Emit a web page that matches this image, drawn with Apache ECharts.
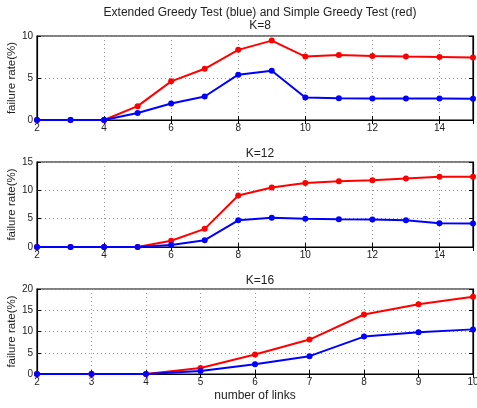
<!DOCTYPE html>
<html><head><meta charset="utf-8">
<script src="https://cdn.jsdelivr.net/npm/echarts@6/dist/echarts.min.js"></script>
<style>html,body{margin:0;padding:0;background:#fff}#c{width:477px;height:408px}</style>
</head><body><div id="c"></div>
<script>
const x8 = [2,3,4,5,6,7,8,9,10,11,12,13,14,15];
const red8 = [0,0,0,1.65,4.6,6.1,8.35,9.45,7.55,7.75,7.62,7.55,7.5,7.45];
const blue8 = [0,0,0,0.83,1.97,2.8,5.4,5.87,2.68,2.6,2.56,2.55,2.55,2.52];
const x12 = [2,3,4,5,6,7,8,9,10,11,12,13,14,15];
const red12 = [0,0,0,0,1.1,3.2,9.1,10.5,11.3,11.6,11.8,12.1,12.4,12.4];
const blue12 = [0,0,0,0,0.35,1.2,4.7,5.15,5.0,4.9,4.85,4.7,4.2,4.15];
const x16 = [2,3,4,5,6,7,8,9,10];
const red16 = [0,0,0,1.4,4.6,8.1,14.0,16.4,18.2];
const blue16 = [0,0,0,0.7,2.3,4.2,8.8,9.8,10.5];
const titles = ['K=8','K=12','K=16'];
const mainTitle = 'Extended Greedy Test (blue) and Simple Greedy Test (red)';
const yLabel = 'failure rate(%)';
const xLabel = 'number of links';

const panels = [
  {x:x8, r:red8, b:blue8, xmin:2, xmax:15, xint:2, ymax:10, yint:5, top:36, h:84, showMax:false},
  {x:x12, r:red12, b:blue12, xmin:2, xmax:15, xint:2, ymax:15, yint:5, top:162, h:85, showMax:false},
  {x:x16, r:red16, b:blue16, xmin:2, xmax:10, xint:1, ymax:20, yint:5, top:289, h:85, showMax:true}
];
const font = 'Liberation Sans, Helvetica, Arial, sans-serif';
const grid=[], xAxis=[], yAxis=[], series=[], title=[];
title.push({text:mainTitle, left:255, textAlign:'center', top:2, textStyle:{fontSize:12, fontWeight:'normal', color:'#222', fontFamily:font}});
panels.forEach((p,i)=>{
  grid.push({left:37, right:4, top:p.top, height:p.h, show:true, borderColor:'#000', borderWidth:1.2, backgroundColor:'#fff', containLabel:false, outerBoundsMode:'none'});
  title.push({text:titles[i], left:255, textAlign:'center', top:p.top-(i===0?21:19), textStyle:{fontSize:12, fontWeight:'normal', color:'#222', fontFamily:font}});
  const common = {min:p.xmin, max:p.xmax, interval:p.xint, gridIndex:i};
  xAxis.push(Object.assign({type:'value', position:'bottom',
    axisLine:{show:true, lineStyle:{color:'#000', width:1.2}},
    axisTick:{show:true, inside:true, length:4, lineStyle:{color:'#000'}},
    axisLabel:{fontSize:10, color:'#222', margin:3, fontFamily:font, showMaxLabel:p.showMax, showMinLabel:true},
    splitLine:{show:true, lineStyle:{color:'#999', type:[1,3], width:1}},
    name: i===2 ? xLabel : '', nameLocation:'middle', nameGap:16, nameMoveOverlap:false,
    nameTextStyle:{fontSize:12, color:'#222', fontFamily:font}}, common));
  xAxis.push(Object.assign({type:'value', position:'top',
    axisLine:{show:true, lineStyle:{color:'#000', width:1.2}},
    axisTick:{show:true, inside:true, length:4, lineStyle:{color:'#000'}},
    axisLabel:{show:false}, splitLine:{show:false}}, common));
  const yc = {min:0, max:p.ymax, interval:p.yint, gridIndex:i};
  yAxis.push(Object.assign({type:'value', position:'left',
    axisLine:{show:true, lineStyle:{color:'#000', width:1.2}},
    axisTick:{show:true, inside:true, length:4, lineStyle:{color:'#000'}},
    axisLabel:{fontSize:10, color:'#222', margin:4, fontFamily:font},
    splitLine:{show:true, lineStyle:{color:'#999', type:[1,3], width:1}},
    name:yLabel, nameLocation:'middle', nameGap:19, nameMoveOverlap:false,
    nameTextStyle:{fontSize:11.5, color:'#222', fontFamily:font}}, yc));
  yAxis.push(Object.assign({type:'value', position:'right',
    axisLine:{show:true, lineStyle:{color:'#000', width:1.2}},
    axisTick:{show:true, inside:true, length:4, lineStyle:{color:'#000'}},
    axisLabel:{show:false}, splitLine:{show:false}}, yc));
  const mk = (vals,color)=>({type:'line', xAxisIndex:2*i, yAxisIndex:2*i,
    data:p.x.map((v,k)=>[v,vals[k]]), symbol:'circle', symbolSize:6,
    lineStyle:{color, width:2}, itemStyle:{color}, animation:false, z:3, clip:false});
  series.push(mk(p.r,'#ff0000'));
  series.push(mk(p.b,'#0000ff'));
});
const chart = echarts.init(document.getElementById('c'), null, {renderer:'canvas'});
chart.setOption({backgroundColor:'#fff', animation:false, title, grid, xAxis, yAxis, series});
</script></body></html>
